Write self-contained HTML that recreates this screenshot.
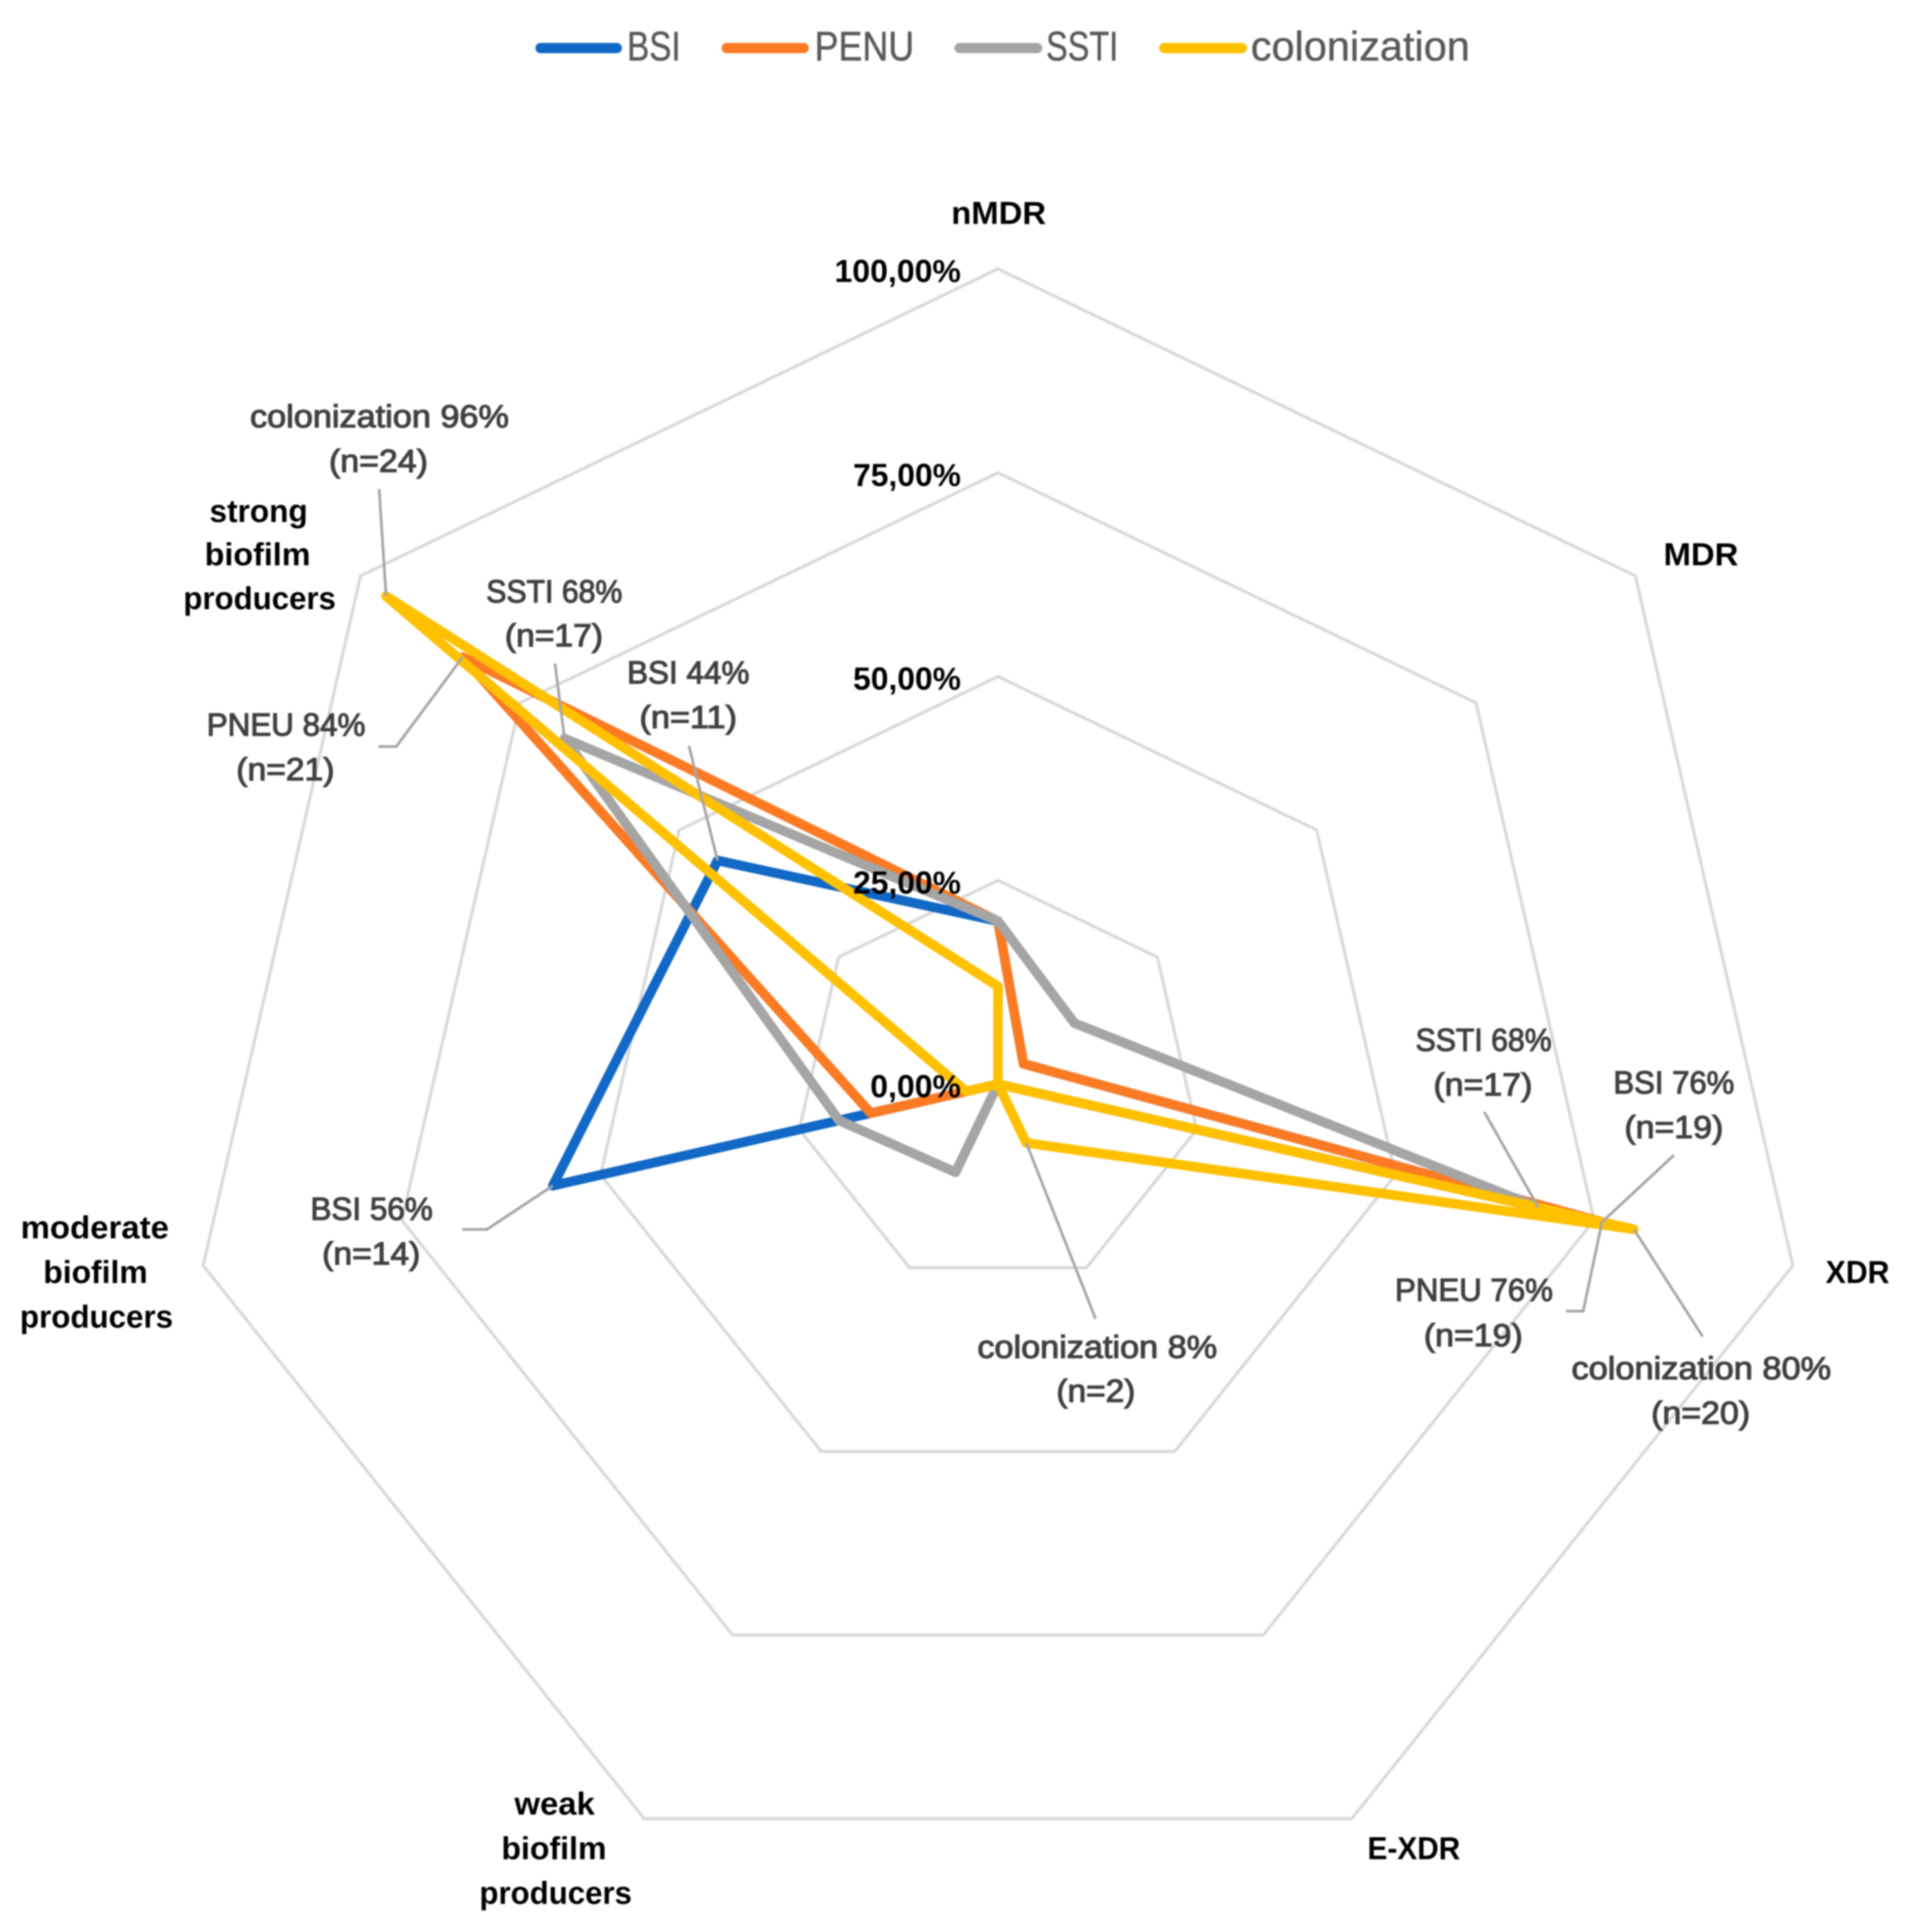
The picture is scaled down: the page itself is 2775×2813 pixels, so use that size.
<!DOCTYPE html>
<html lang="en">
<head>
<meta charset="utf-8">
<title>Radar chart of resistance and biofilm profiles by infection type</title>
<style>
  html, body { margin: 0; padding: 0; background: #ffffff; }
  body { width: 2775px; height: 2813px; overflow: hidden; }
  svg { display: block; filter: blur(1px); font-family: "Liberation Sans", sans-serif; }
</style>
</head>
<body>
<svg id="chart" xmlns="http://www.w3.org/2000/svg" width="2775" height="2813" viewBox="0 0 2775 2813">
  <rect x="0" y="0" width="2775" height="2813" fill="#ffffff"></rect>
  <g id="grid"></g>
  <g id="series"></g>
  <g id="leaders"></g>
  <g id="ticks"></g>
  <g id="cats"></g>
  <g id="labels"></g>
  <g id="legend"></g>
</svg>
<script>
// ---- chart data ----
var categories = ['nMDR', 'MDR', 'XDR', 'E-XDR', 'weak biofilm producers', 'moderate biofilm producers', 'strong biofilm producers'];
var seriesNames = ['BSI', 'PENU', 'SSTI', 'colonization'];
var labelNames = ['BSI', 'PNEU', 'SSTI', 'colonization'];
var bsiValues = [20, 4, 76, 0, 0, 56, 44];
var penuValues = [20, 4, 76, 0, 0, 16, 84];
var sstiValues = [20, 12, 68, 0, 12, 20, 68];
var colonizationValues = [12, 0, 80, 8, 0, 4, 96];
var tickValues = [0, 25, 50, 75, 100];
var tickLabels = ['0,00%', '25,00%', '50,00%', '75,00%', '100,00%'];
var isolatesPerGroup = 25;

// ---- layout and styling ----
var allValues = [bsiValues, penuValues, sstiValues, colonizationValues];
var seriesColors = ['#1168c6', '#fb7a24', '#a5a5a5', '#ffc000'];
var centerX = 1453, centerY = 1578.5, radius = 1187, axisMax = 100;
var svgNS = 'http://www.w3.org/2000/svg';

function radial(catIndex, value) {
  var a = 2 * Math.PI * catIndex / categories.length;
  var r = radius * value / axisMax;
  return [centerX + r * Math.sin(a), centerY - r * Math.cos(a)];
}
function make(tag, parentId) {
  var el = document.createElementNS(svgNS, tag);
  document.getElementById(parentId).appendChild(el);
  return el;
}
function slug(s) { return s.toLowerCase().replace(/[^a-z0-9]+/g, '-'); }
function fitText(el, str, x0, x1, base, size, weight, color, stroke) {
  el.textContent = str;
  el.setAttribute('x', x0);
  el.setAttribute('y', base);
  el.setAttribute('textLength', x1 - x0);
  el.setAttribute('lengthAdjust', 'spacingAndGlyphs');
  el.setAttribute('font-size', size);
  el.setAttribute('font-weight', weight);
  el.setAttribute('fill', color);
  if (stroke) {
    el.setAttribute('stroke', color);
    el.setAttribute('stroke-width', stroke);
  }
}
function ringPoints(fn) {
  return categories.map(function (c, i) { return fn(i).map(function (v) { return v.toFixed(1); }).join(','); }).join(' ');
}

// grid rings
tickValues.forEach(function (t, ti) {
  var ring = make('polygon', 'grid');
  
  
  ring.setAttribute('points', ringPoints(function (i) { return radial(i, t); }));
  ring.setAttribute('fill', 'none');
  ring.setAttribute('stroke', '#d9d9d9');
  ring.setAttribute('stroke-width', 4.5);
});

// series
allValues.forEach(function (vals, s) {
  var line = make('polygon', 'series');
  
  
  line.setAttribute('points', ringPoints(function (i) { return radial(i, vals[i]); }));
  line.setAttribute('fill', 'none');
  line.setAttribute('stroke', seriesColors[s]);
  line.setAttribute('stroke-width', 14);
  line.setAttribute('stroke-linejoin', 'round');
});

// radial tick labels (right-aligned next to the vertical axis)
var tickBaseOffset = 19, tickRight = 1399, tickCharWidths = [132, 157, 157, 157, 184];
tickLabels.forEach(function (txt, i) {
  var el = make('text', 'ticks');
  
  
  var base = radial(0, tickValues[i])[1] + tickBaseOffset;
  fitText(el, txt, tickRight - tickCharWidths[i], tickRight, base, 46, 700, '#000000');
});

// category labels: one box [x0, x1, baseline] per printed line
var catLines = [
  [['nMDR', 1385, 1523, 326]],
  [['MDR', 2422, 2531, 823]],
  [['XDR', 2658, 2751, 1868]],
  [['E-XDR', 1991, 2126, 2707]],
  [['weak', 749, 866, 2642], ['biofilm', 730, 883, 2707], ['producers', 698, 920, 2772]],
  [['moderate', 30, 246, 1803], ['biofilm', 63, 215, 1868], ['producers', 29, 252, 1933]],
  [['strong', 305, 448, 760], ['biofilm', 298, 452, 823], ['producers', 267, 489, 887]]
];
catLines.forEach(function (lines, c) {
  lines.forEach(function (ln, k) {
    var el = make('text', 'cats');
    
    
    fitText(el, ln[0], ln[1], ln[2], ln[3], 46, 700, '#000000');
  });
});

// data labels with leader lines (s = series index, c = category index)
var labelLayout = [
  { s: 3, c: 6, a: [364, 741, 622], b: [479, 623, 687], leader: [[552, 712]] },
  { s: 2, c: 6, a: [708, 906, 877], b: [735, 878, 941], leader: [[808, 966]] },
  { s: 0, c: 6, a: [913, 1091, 995], b: [931, 1073, 1060], leader: [[1003, 1086]] },
  { s: 1, c: 6, a: [301, 532, 1071], b: [344, 487, 1136], leader: [[551, 1087], [577, 1087]] },
  { s: 0, c: 5, a: [452, 630, 1776], b: [469, 612, 1841], leader: [[673, 1790], [709, 1790]] },
  { s: 3, c: 3, a: [1423, 1772, 1977], b: [1538, 1653, 2041], leader: [[1595, 1920]] },
  { s: 2, c: 2, a: [2061, 2259, 1530], b: [2087, 2231, 1595], leader: [[2161, 1619]] },
  { s: 0, c: 2, a: [2349, 2525, 1592], b: [2365, 2509, 1657], leader: [[2437, 1682]] },
  { s: 1, c: 2, a: [2031, 2261, 1894], b: [2073, 2217, 1960], leader: [[2280, 1909], [2305, 1909]] },
  { s: 3, c: 2, a: [2288, 2666, 2008], b: [2404, 2548, 2073], leader: [[2479, 1946]] }
];
labelLayout.forEach(function (lab) {
  var v = allValues[lab.s][lab.c];
  var key = slug(labelNames[lab.s]) + '-' + slug(categories[lab.c]);
  var p = radial(lab.c, v);
  var leader = make('polyline', 'leaders');
  
  
  leader.setAttribute('points', lab.leader.concat([p]).map(function (q) { return q[0].toFixed(1) + ',' + q[1].toFixed(1); }).join(' '));
  leader.setAttribute('fill', 'none');
  leader.setAttribute('stroke', '#a6a6a6');
  leader.setAttribute('stroke-width', 4);

  var t1 = make('text', 'labels');
  
  
  fitText(t1, labelNames[lab.s] + ' ' + v + '%', lab.a[0], lab.a[1], lab.a[2], 46, 400, '#404040', 1.5);

  var t2 = make('text', 'labels');
  
  
  fitText(t2, '(n=' + Math.round(v * isolatesPerGroup / 100) + ')', lab.b[0], lab.b[1], lab.b[2], 46, 400, '#404040', 1.5);
});

// legend
var legendLayout = [
  { lx0: 787, lx1: 898, tx0: 913, tx1: 991 },
  { lx0: 1058, lx1: 1170, tx0: 1186, tx1: 1331 },
  { lx0: 1397, lx1: 1510, tx0: 1523, tx1: 1628 },
  { lx0: 1695, lx1: 1808, tx0: 1821, tx1: 2140 }
];
seriesNames.forEach(function (name, s) {
  var l = legendLayout[s];
  var swatch = make('line', 'legend');
  
  
  swatch.setAttribute('x1', l.lx0);
  swatch.setAttribute('x2', l.lx1);
  swatch.setAttribute('y1', 70);
  swatch.setAttribute('y2', 70);
  swatch.setAttribute('stroke', seriesColors[s]);
  swatch.setAttribute('stroke-width', 15);
  swatch.setAttribute('stroke-linecap', 'round');

  var label = make('text', 'legend');
  
  
  fitText(label, name, l.tx0, l.tx1, 88, 60, 400, '#595959', 0.6);
});
</script>
</body>
</html>
